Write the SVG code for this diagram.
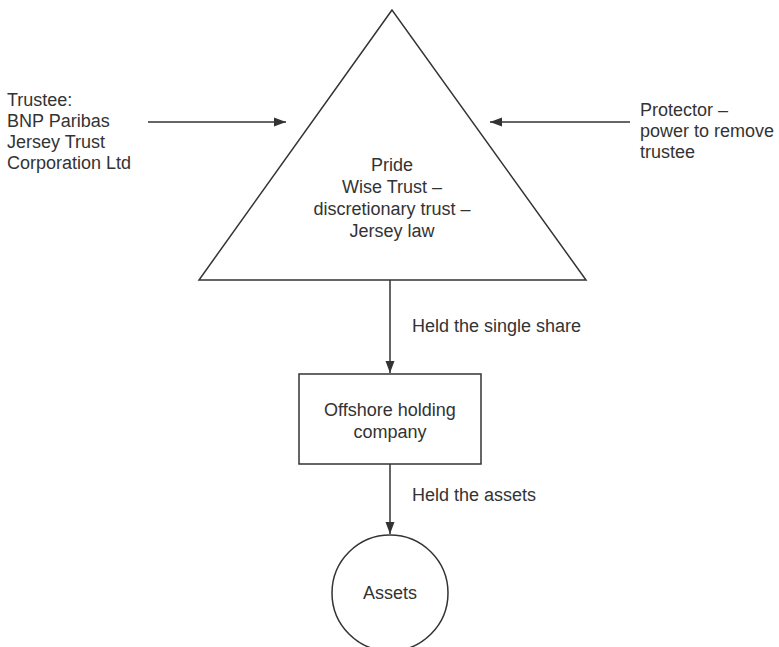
<svg xmlns="http://www.w3.org/2000/svg" width="779" height="647" viewBox="0 0 779 647">
<style>
text{font-family:"Liberation Sans","DejaVu Sans",sans-serif;font-size:18px;fill:#333}
.c{text-anchor:middle}
.s{fill:#fff;stroke:#333;stroke-width:1.5}
.e{stroke:#333;stroke-width:1.5;fill:none;marker-end:url(#ah)}
</style>
<defs>
<marker id="ah" markerWidth="12" markerHeight="10" refX="12" refY="5" orient="auto" markerUnits="userSpaceOnUse">
<path d="M0,0.5 L12,5 L0,9.5 Z" fill="#333"/>
</marker>
</defs>
<rect width="779" height="647" fill="#fff"/>
<g id="trust">
<polygon class="s" points="392,10 199,280 586,280"/>
<text class="c" x="392" y="171">Pride</text>
<text class="c" x="392" y="193">Wise Trust –</text>
<text class="c" x="392" y="215">discretionary trust –</text>
<text class="c" x="392" y="237">Jersey law</text>
</g>
<g id="trustee">
<text x="7" y="106">Trustee:</text>
<text x="7" y="127">BNP Paribas</text>
<text x="7" y="148">Jersey Trust</text>
<text x="7" y="169">Corporation Ltd</text>
</g>
<g id="protector">
<text x="640" y="116">Protector –</text>
<text x="640" y="137">power to remove</text>
<text x="640" y="158">trustee</text>
</g>
<g id="company">
<rect class="s" x="299" y="374" width="182" height="90"/>
<text class="c" x="390" y="416">Offshore holding</text>
<text class="c" x="390" y="438">company</text>
</g>
<g id="assets">
<circle class="s" cx="390" cy="593" r="58"/>
<text class="c" x="390" y="599">Assets</text>
</g>
<g id="connectors">
<line class="e" x1="148" y1="122" x2="286" y2="122"/>
<line class="e" x1="630" y1="122" x2="490" y2="122"/>
<line class="e" x1="390" y1="280" x2="390" y2="373"/>
<line class="e" x1="390" y1="464" x2="390" y2="534"/>
<text x="412" y="332">Held the single share</text>
<text x="412" y="501">Held the assets</text>
</g>
</svg>
